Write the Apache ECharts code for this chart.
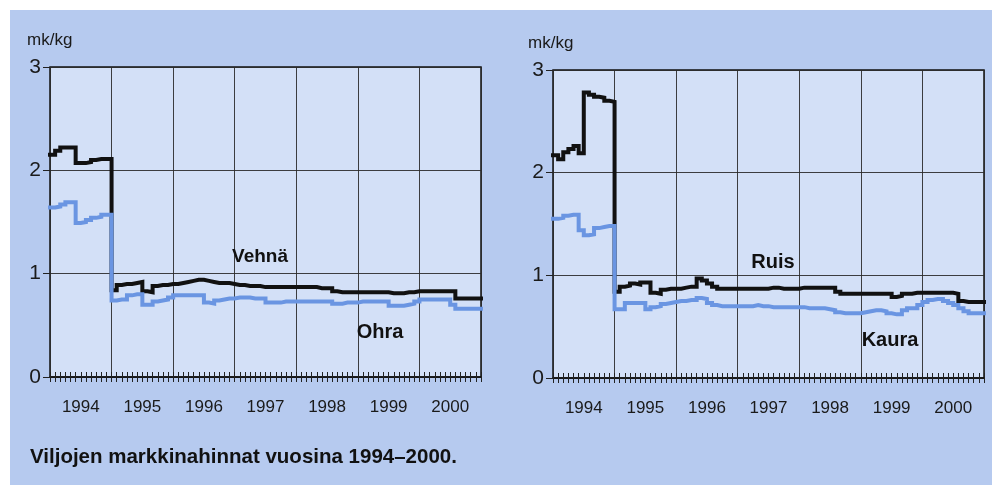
<!DOCTYPE html>
<html>
<head>
<meta charset="utf-8">
<script src="https://cdn.jsdelivr.net/npm/echarts@6/dist/echarts.min.js"></script>
<style>html,body{margin:0;padding:0;background:#fff}#c{width:992px;height:485px}</style>
</head>
<body>
<div id="c"></div>
<script>
const years = ['1994','1995','1996','1997','1998','1999','2000'];
const yTicks = [0, 1, 2, 3];
// monthly prices, mk/kg, Jan 1994 .. Dec 2000
const vehna = [
  2.15,2.19,2.22,2.22,2.22,2.07,2.07,2.08,2.10,2.11,2.11,2.11,
  0.84,0.89,0.90,0.90,0.91,0.92,0.83,0.82,0.88,0.89,0.89,0.90,
  0.90,0.91,0.92,0.93,0.94,0.94,0.93,0.92,0.91,0.91,0.91,0.90,
  0.89,0.89,0.88,0.88,0.88,0.87,0.87,0.87,0.87,0.87,0.87,0.87,
  0.87,0.87,0.87,0.87,0.86,0.86,0.86,0.83,0.82,0.82,0.82,0.82,
  0.82,0.82,0.82,0.82,0.82,0.82,0.81,0.81,0.81,0.82,0.82,0.83,
  0.83,0.83,0.83,0.83,0.83,0.83,0.83,0.76,0.76,0.76,0.76,0.76
];
const ohra = [
  1.64,1.65,1.67,1.69,1.69,1.49,1.50,1.52,1.54,1.55,1.57,1.57,
  0.74,0.75,0.75,0.79,0.80,0.80,0.70,0.70,0.73,0.74,0.75,0.77,
  0.79,0.79,0.79,0.79,0.79,0.79,0.72,0.71,0.74,0.75,0.76,0.76,
  0.77,0.77,0.77,0.76,0.76,0.76,0.72,0.72,0.72,0.73,0.73,0.73,
  0.73,0.73,0.73,0.73,0.73,0.73,0.73,0.71,0.71,0.72,0.72,0.72,
  0.73,0.73,0.73,0.73,0.73,0.73,0.69,0.69,0.69,0.70,0.71,0.73,
  0.75,0.75,0.75,0.75,0.75,0.75,0.70,0.66,0.66,0.66,0.66,0.66
];
const ruis = [
  2.17,2.13,2.20,2.23,2.26,2.19,2.78,2.76,2.74,2.73,2.70,2.69,
  0.84,0.89,0.90,0.92,0.91,0.93,0.93,0.83,0.82,0.86,0.87,0.87,
  0.87,0.88,0.89,0.89,0.97,0.95,0.92,0.89,0.87,0.87,0.87,0.87,
  0.87,0.87,0.87,0.87,0.87,0.87,0.88,0.88,0.87,0.87,0.87,0.87,
  0.88,0.88,0.88,0.88,0.88,0.88,0.88,0.84,0.82,0.82,0.82,0.82,
  0.82,0.82,0.82,0.82,0.82,0.82,0.79,0.80,0.82,0.82,0.83,0.83,
  0.83,0.83,0.83,0.83,0.83,0.83,0.82,0.75,0.74,0.74,0.74,0.74
];
const kaura = [
  1.55,1.56,1.58,1.59,1.59,1.44,1.39,1.40,1.46,1.47,1.48,1.48,
  0.67,0.67,0.73,0.73,0.73,0.73,0.67,0.69,0.70,0.72,0.73,0.74,
  0.75,0.75,0.76,0.76,0.78,0.77,0.73,0.71,0.70,0.70,0.70,0.70,
  0.70,0.70,0.70,0.71,0.70,0.70,0.69,0.69,0.69,0.69,0.69,0.69,
  0.69,0.68,0.68,0.68,0.68,0.67,0.66,0.64,0.63,0.63,0.63,0.63,
  0.64,0.65,0.66,0.66,0.65,0.63,0.62,0.62,0.66,0.68,0.68,0.71,
  0.74,0.76,0.77,0.77,0.75,0.73,0.71,0.68,0.65,0.63,0.63,0.63
];

const SANS = '"Liberation Sans",Arial,sans-serif';
const BLACK = '#111111';
const BLUE = '#6a95e2';
const INNER = '#d3e0f7';
const OUTER = '#b6caef';

function stepData(arr) {
  const d = arr.map((v, i) => [i, v]);
  d.push([arr.length, arr[arr.length - 1]]);
  return d;
}

const grids = [
  {left: 50, top: 67, width: 431, height: 310},
  {left: 553, top: 70, width: 431, height: 308}
];

const xAxis = [], yAxis = [], series = [];
grids.forEach((g, gi) => {
  xAxis.push({
    gridIndex: gi, type: 'category', data: years, boundaryGap: true, position: 'bottom',
    axisLine: {show: false}, axisTick: {show: false},
    axisLabel: {fontFamily: SANS, fontSize: 17, color: '#1a1a1a', margin: 22},
    splitLine: {show: true, lineStyle: {color: '#2a2a2a', width: 0.9}}
  });
  xAxis.push({
    gridIndex: gi, type: 'value', min: 0, max: 84, interval: 1, position: 'bottom',
    axisLine: {show: true, onZero: false, lineStyle: {color: BLACK, width: 1.5}},
    axisTick: {show: true, inside: true, length: 5, lineStyle: {color: '#222', width: 1}},
    axisLabel: {show: false}, splitLine: {show: false}
  });
  xAxis.push({
    gridIndex: gi, type: 'value', min: 0, max: 84, interval: 1, position: 'bottom',
    axisLine: {show: false, onZero: false},
    axisTick: {show: true, inside: false, length: 5, lineStyle: {color: '#222', width: 1}},
    axisLabel: {show: false}, splitLine: {show: false}
  });
  yAxis.push({
    gridIndex: gi, type: 'value', min: yTicks[0], max: yTicks[yTicks.length - 1], interval: 1,
    axisLine: {show: false},
    axisTick: {show: true, length: 7, lineStyle: {color: '#222', width: 1}},
    axisLabel: {fontFamily: SANS, fontSize: 21, color: '#1a1a1a', margin: 9},
    splitLine: {show: true, lineStyle: {color: '#2a2a2a', width: 0.9}}
  });
});

const pairs = [[vehna, ohra], [ruis, kaura]];
pairs.forEach((p, gi) => {
  series.push({
    type: 'line', xAxisIndex: gi * 3 + 1, yAxisIndex: gi, data: stepData(p[0]), step: 'end',
    symbol: 'none', lineStyle: {color: BLACK, width: 4, cap: 'square', join: 'miter'}, z: 3, animation: false
  });
  series.push({
    type: 'line', xAxisIndex: gi * 3 + 1, yAxisIndex: gi, data: stepData(p[1]), step: 'end',
    symbol: 'none', lineStyle: {color: BLUE, width: 4, cap: 'square', join: 'miter'}, z: 4, animation: false
  });
});

const boldText = (x, y, t, size) => ({
  type: 'text', x: x, y: y, z: 10,
  style: {text: t, fontFamily: SANS, fontWeight: 'bold', fontSize: size, fill: '#111', align: 'center', verticalAlign: 'middle'}
});

const chart = echarts.init(document.getElementById('c'), null, {renderer: 'canvas'});
chart.setOption({
  backgroundColor: '#ffffff',
  animation: false,
  grid: grids.map(g => Object.assign({show: true, backgroundColor: INNER, borderColor: BLACK, borderWidth: 1.5}, g)),
  xAxis: xAxis,
  yAxis: yAxis,
  series: series,
  graphic: [
    {type: 'rect', z: -10, shape: {x: 10, y: 10, width: 982, height: 475}, style: {fill: OUTER}},
    {type: 'text', x: 27, y: 40, z: 10, style: {text: 'mk/kg', fontFamily: SANS, fontSize: 17, fill: '#1a1a1a', verticalAlign: 'middle'}},
    {type: 'text', x: 528, y: 43, z: 10, style: {text: 'mk/kg', fontFamily: SANS, fontSize: 17, fill: '#1a1a1a', verticalAlign: 'middle'}},
    boldText(260, 257, 'Vehnä', 19),
    boldText(380, 332, 'Ohra', 20),
    boldText(773, 262, 'Ruis', 20),
    boldText(890, 340, 'Kaura', 20),
    {type: 'text', x: 30, y: 457, z: 10, style: {text: 'Viljojen markkinahinnat vuosina 1994–2000.', fontFamily: SANS, fontWeight: 'bold', fontSize: 20.5, fill: '#111', verticalAlign: 'middle'}}
  ]
});
</script>
</body>
</html>
